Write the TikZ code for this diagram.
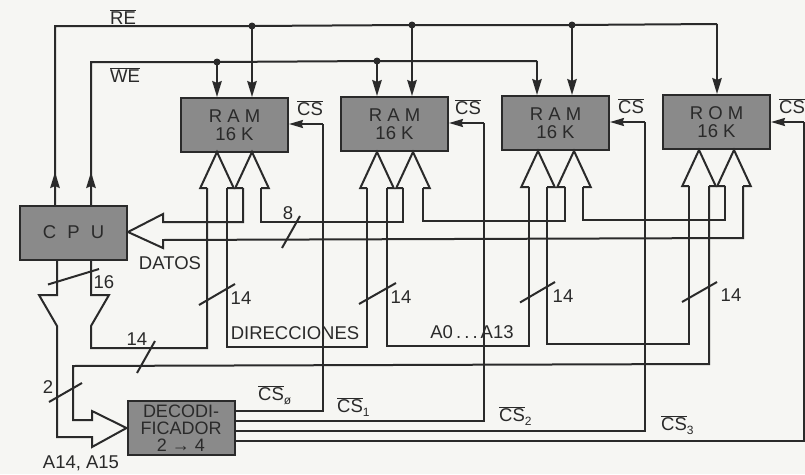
\documentclass[tikz,border=0pt]{standalone}
\usepackage{fontspec}
\setmainfont{Liberation Sans}
\usetikzlibrary{arrows.meta,calc}
\definecolor{ink}{HTML}{2A2A2A}
\definecolor{boxgray}{HTML}{8A8A8A}
\definecolor{paper}{HTML}{F6F6F3}
\newcommand{\ovl}[1]{\ensuremath{\overline{\hbox{#1}}}}
\newcommand{\lowsub}[1]{\raisebox{-4pt}{\fontsize{12}{12}\selectfont #1}}
% name, tip x, tip y, stem offset : defines the tip and the ends of the two stems, draws the hollow head
\newcommand{\hollowhead}[4]{%
  \coordinate (#1) at (#2,#3);
  \coordinate (#1sl) at ($(#1)+(-#4,36)$);
  \coordinate (#1sr) at ($(#1)+(#4,36)$);
  \coordinate (#1wl) at ($(#1)+(-16.7,36)$);
  \coordinate (#1wr) at ($(#1)+(16.7,36)$);
  \draw[wire] (#1sl) -- (#1wl) -- (#1) -- (#1wr) -- (#1sr);
}
\tikzset{
  wire/.style={draw=ink,line width=2pt,line join=miter},
  sig/.style={wire,-{Stealth[length=16pt,width=9.5pt,inset=2pt]}},
  csig/.style={wire,-{Stealth[length=14pt,width=8pt,inset=1.5pt]}},
  tick/.style={draw=ink,line width=2pt},
  gbox/.style={draw=ink,line width=2pt,fill=boxgray,text=ink,inner sep=0pt,align=center,
    minimum width=107pt,minimum height=54pt,font=\fontsize{18.5}{19}\selectfont},
  lab/.style={text=ink,inner sep=0pt,font=\fontsize{18.5}{19}\selectfont},
  jdot/.style={circle,fill=ink,inner sep=0pt,minimum size=7pt},
}
\begin{document}
\begin{tikzpicture}[x=1pt,y=-1pt]
\path[fill=paper,use as bounding box] (0,0) rectangle (805,474);

% boxes
\node[gbox] (ram1) at (234.5,125) {R A M\\[-1pt]16 K};
\node[gbox] (ram2) at (394.5,124) {R A M\\[-1pt]16 K};
\node[gbox] (ram3) at (555.5,123) {R A M\\[-1pt]16 K};
\node[gbox] (rom)  at (716.5,122) {R O M\\[-1pt]16 K};
\node[gbox] (cpu)  at (73.5,232.5) {C\hspace{.6em}P\hspace{.6em}U};
\node[gbox,font=\fontsize{18}{17}\selectfont] (dec) at (181,428) {DECODI-\\FICADOR\\2 → 4};

% RE and WE control lines
\coordinate (reL) at (55,26);
\coordinate (reR) at (717,24);
\coordinate (weL) at (91,62);
\coordinate (weR) at (537,61);
\node[jdot] (re1) at (252,26) {};
\node[jdot] (re2) at (412,25) {};
\node[jdot] (re3) at (572,25) {};
\node[jdot] (we1) at (217,62) {};
\node[jdot] (we2) at (377,61) {};
\coordinate (cpuRE) at (55,205);
\coordinate (cpuWE) at (91,205);
\coordinate (reArr) at (55,172);
\coordinate (weArr) at (91,172);
\draw[wire] (cpuRE) -- (reL) -- (re1.center) -- (re2.center) -- (re3.center) -- (reR);
\draw[wire] (cpuWE) -- (weL) -- (we1.center) -- (we2.center) -- (weR);
\draw[sig] (cpuRE) -- (reArr);
\draw[sig] (cpuWE) -- (weArr);
\draw[sig] (reR) -- (reR |- rom.north);
\draw[sig] (weR) -- (weR |- ram3.north);
\draw[sig] (re1.center) -- (re1 |- ram1.north);
\draw[sig] (re2.center) -- (re2 |- ram2.north);
\draw[sig] (re3.center) -- (re3 |- ram3.north);
\draw[sig] (we1.center) -- (we1 |- ram1.north);
\draw[sig] (we2.center) -- (we2 |- ram2.north);

% hollow bus heads
\hollowhead{a1}{217}{152}{10}
\hollowhead{d1}{252}{152}{9}
\hollowhead{a2}{377}{152}{10}
\hollowhead{d2}{413}{152}{10}
\hollowhead{a3}{538}{151}{9}
\hollowhead{d3}{574}{151}{9}
\hollowhead{a4}{699}{150}{10}
\hollowhead{d4}{734}{150}{9}

% data bus and its head at the CPU
\coordinate (dTip) at (128,232);
\coordinate (dWt) at (163,214);
\coordinate (dWb) at (163,248);
\coordinate (dT1) at (163,222);
\coordinate (dB1) at (163,240);
\coordinate (dB2) at (743,238);
\draw[wire] (d1sl) -- (d1sl |- dT1) -- (dT1) -- (dWt) -- (dTip) -- (dWb) -- (dB1) -- (dB2) -- (d4sr);
\coordinate (t1) at (0,222);
\coordinate (t2) at (0,221);
\coordinate (t3) at (0,220);
\draw[wire] (d1sr) -- (d1sr |- t1) -- (d2sl |- t1) -- (d2sl);
\draw[wire] (d2sr) -- (d2sr |- t2) -- (d3sl |- t2) -- (d3sl);
\draw[wire] (d3sr) -- (d3sr |- t3) -- (d4sl |- t3) -- (d4sl);

% address bus
\coordinate (cpuL) at (57,259);
\coordinate (cpuR) at (91,259);
\coordinate (trLt) at (39,295);
\coordinate (trLs) at (57,295);
\coordinate (trLb) at (57,326);
\coordinate (trRt) at (109,295);
\coordinate (trRs) at (91,295);
\coordinate (trRb) at (91,326);
\coordinate (ab1) at (91,348);
\coordinate (ab3) at (0,347);
\coordinate (ab4) at (0,346);
\coordinate (ab5) at (0,344);
\draw[wire] (cpuR) -- (trRs) -- (trRt) -- (trRb) -- (ab1) -- (a1sl |- ab1) -- (a1sl);
\draw[wire] (a1sr) -- (a1sr |- ab3) -- (a2sl |- ab3) -- (a2sl);
\draw[wire] (a2sr) -- (a2sr |- ab4) -- (a3sl |- ab4) -- (a3sl);
\draw[wire] (a3sr) -- (a3sr |- ab5) -- (a4sl |- ab5) -- (a4sl);
% upper address pair to the decoder
\coordinate (dcTip) at (dec.west);
\coordinate (dcWt) at (92,411);
\coordinate (dcWb) at (92,447);
\coordinate (dcT) at (92,420);
\coordinate (dcB) at (92,437);
\coordinate (dcL) at (57,437);
\coordinate (up1) at (73,420);
\coordinate (up2) at (73,366);
\coordinate (up3) at (0,364);
\draw[wire] (cpuL) -- (trLs) -- (trLt) -- (trLb) -- (dcL) -- (dcB) -- (dcWb) -- (dcTip) -- (dcWt) -- (dcT) -- (up1) -- (up2) -- (a4sr |- up3) -- (a4sr);

% chip-select lines
\coordinate (cs0a) at (323,124);
\coordinate (cs0b) at (323,411);
\coordinate (cs1a) at (484,123);
\coordinate (cs1b) at (484,421);
\coordinate (cs2a) at (645,122);
\coordinate (cs2b) at (645,431);
\coordinate (cs3a) at (804,122);
\coordinate (cs3b) at (804,441);
\draw[wire] (dec.east |- cs0b) -- (cs0b) -- (cs0a);
\draw[wire] (dec.east |- cs1b) -- (cs1b) -- (cs1a);
\draw[wire] (dec.east |- cs2b) -- (cs2b) -- (cs2a);
\draw[wire] (dec.east |- cs3b) -- (cs3b) -- (cs3a);
\draw[csig] (cs0a) -- (ram1.east |- cs0a);
\draw[csig] (cs1a) -- (ram2.east |- cs1a);
\draw[csig] (cs2a) -- (ram3.east |- cs2a);
\draw[csig] (cs3a) -- (rom.east |- cs3a);

% bus-width ticks
\draw[tick] (282,248) -- (300,216);
\draw[tick] (48,284.5) -- (99,269);
\draw[tick] (199,305) -- (235,284);
\draw[tick] (359,304) -- (396,283);
\draw[tick] (520,302.5) -- (555,282);
\draw[tick] (682,302) -- (717,282);
\draw[tick] (137,373) -- (155,341);
\draw[tick] (49,402) -- (82,383);

% labels
\node[lab] (lRE) at (123,17) {\ovl{RE}};
\node[lab] (lWE) at (125,75) {\ovl{WE}};
\node[lab] (lcs1) at (310,108) {\ovl{CS}};
\node[lab] (lcs2) at (468,107) {\ovl{CS}};
\node[lab] (lcs3) at (631,106) {\ovl{CS}};
\node[lab] (lcs4) at (792,106) {\ovl{CS}};
\node[lab] (l8) at (288,213) {8};
\node[lab] (lD) at (170,263) {DATOS};
\node[lab] (l16) at (104,282) {16};
\node[lab] (l14a) at (241,298) {14};
\node[lab] (l14b) at (401,297) {14};
\node[lab] (l14c) at (563,296) {14};
\node[lab] (l14d) at (731,295) {14};
\node[lab] (lDIR) at (295,333) {DIRECCIONES};
\node[lab] (lA) at (472,332) {A0\,.\,.\,.\,A13};
\node[lab] (l14e) at (137,339) {14};
\node[lab] (l2) at (48,387) {2};
\node[lab,anchor=west] (lc0) at (258,395) {\ovl{CS}\lowsub{ø}};
\node[lab,anchor=west] (lc1) at (337,407) {\ovl{CS}\lowsub{1}};
\node[lab,anchor=west] (lc2) at (499,416) {\ovl{CS}\lowsub{2}};
\node[lab,anchor=west] (lc3) at (661,425) {\ovl{CS}\lowsub{3}};
\node[lab] (lA14) at (81,463) {A14, A15};
\end{tikzpicture}
\end{document}
